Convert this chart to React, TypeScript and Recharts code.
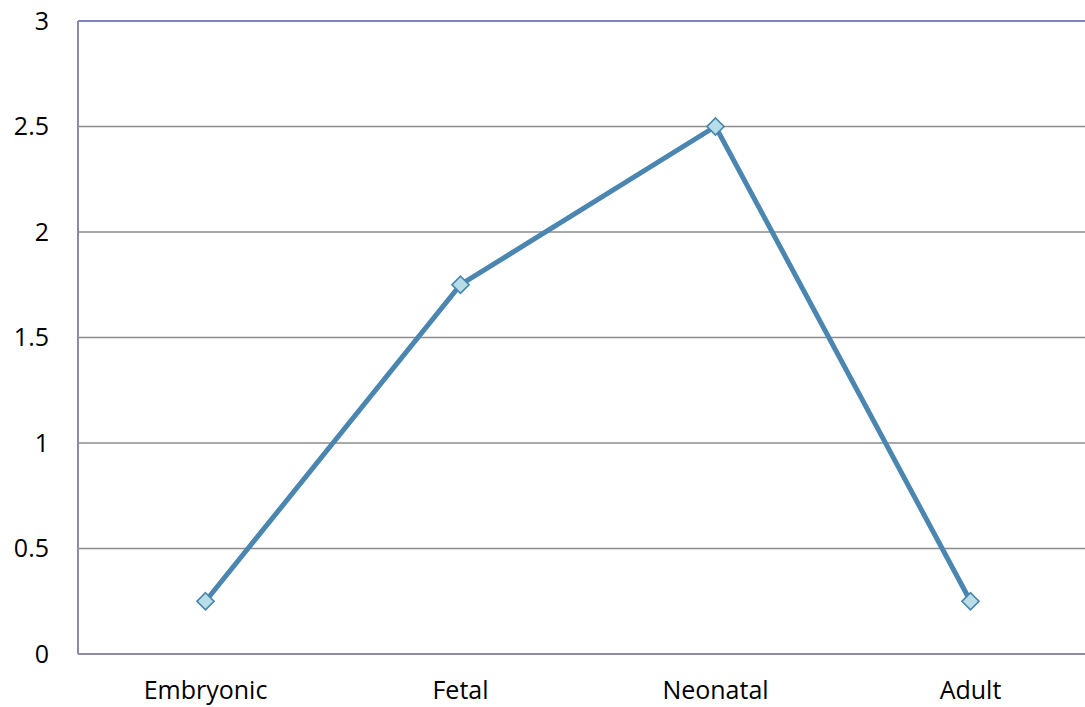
import React from "react";
import { LineChart, Line, XAxis, YAxis, CartesianGrid, ReferenceLine } from "recharts";

const categories = ["Embryonic", "Fetal", "Neonatal", "Adult"];
const values = [0.25, 1.75, 2.5, 0.25];
const yTicks = [0, 0.5, 1, 1.5, 2, 2.5, 3];

const data = categories.map((c, i) => ({ name: c, value: values[i] }));

const Diamond = (props: any) => {
  const { cx, cy } = props;
  if (cx == null || cy == null) return null;
  const r = 8.5;
  return (
    <path
      d={`M${cx},${cy - r}L${cx + r},${cy}L${cx},${cy + r}L${cx - r},${cy}Z`}
      fill="#B7DEE8"
      stroke="#4A86AC"
      strokeWidth={1.75}
    />
  );
};

const font = "Open Sans, sans-serif";

export default function App() {
  return (
    <div style={{ position: "absolute", left: 0, top: 0, width: 1085, height: 707, overflow: "hidden", background: "#fff" }}>
      <LineChart width={1098} height={707} data={data} margin={{ top: 21, right: 0, bottom: 0, left: 0 }}>
        <CartesianGrid vertical={false} stroke="#8C8C8C" strokeWidth={1.5} />
        <ReferenceLine y={3} stroke="#8080C8" strokeWidth={2} />
        <XAxis
          dataKey="name"
          height={53}
          padding={{ left: 127.5, right: 127.5 }}
          axisLine={{ stroke: "#8E8AA6", strokeWidth: 2 }}
          tickLine={false}
          tickSize={0}
          tickMargin={27}
          tick={{ fill: "#000", fontSize: 25, fontFamily: font }}
        />
        <YAxis
          width={78}
          domain={[0, 3]}
          ticks={yTicks}
          axisLine={{ stroke: "#8E8AA6", strokeWidth: 2 }}
          tickLine={false}
          tickSize={0}
          tickMargin={29}
          tick={{ fill: "#000", fontSize: 25, fontFamily: font }}
        />
        <Line
          type="linear"
          dataKey="value"
          stroke="#4A86AF"
          strokeWidth={5}
          dot={<Diamond />}
          activeDot={false}
          isAnimationActive={false}
        />
      </LineChart>
    </div>
  );
}
